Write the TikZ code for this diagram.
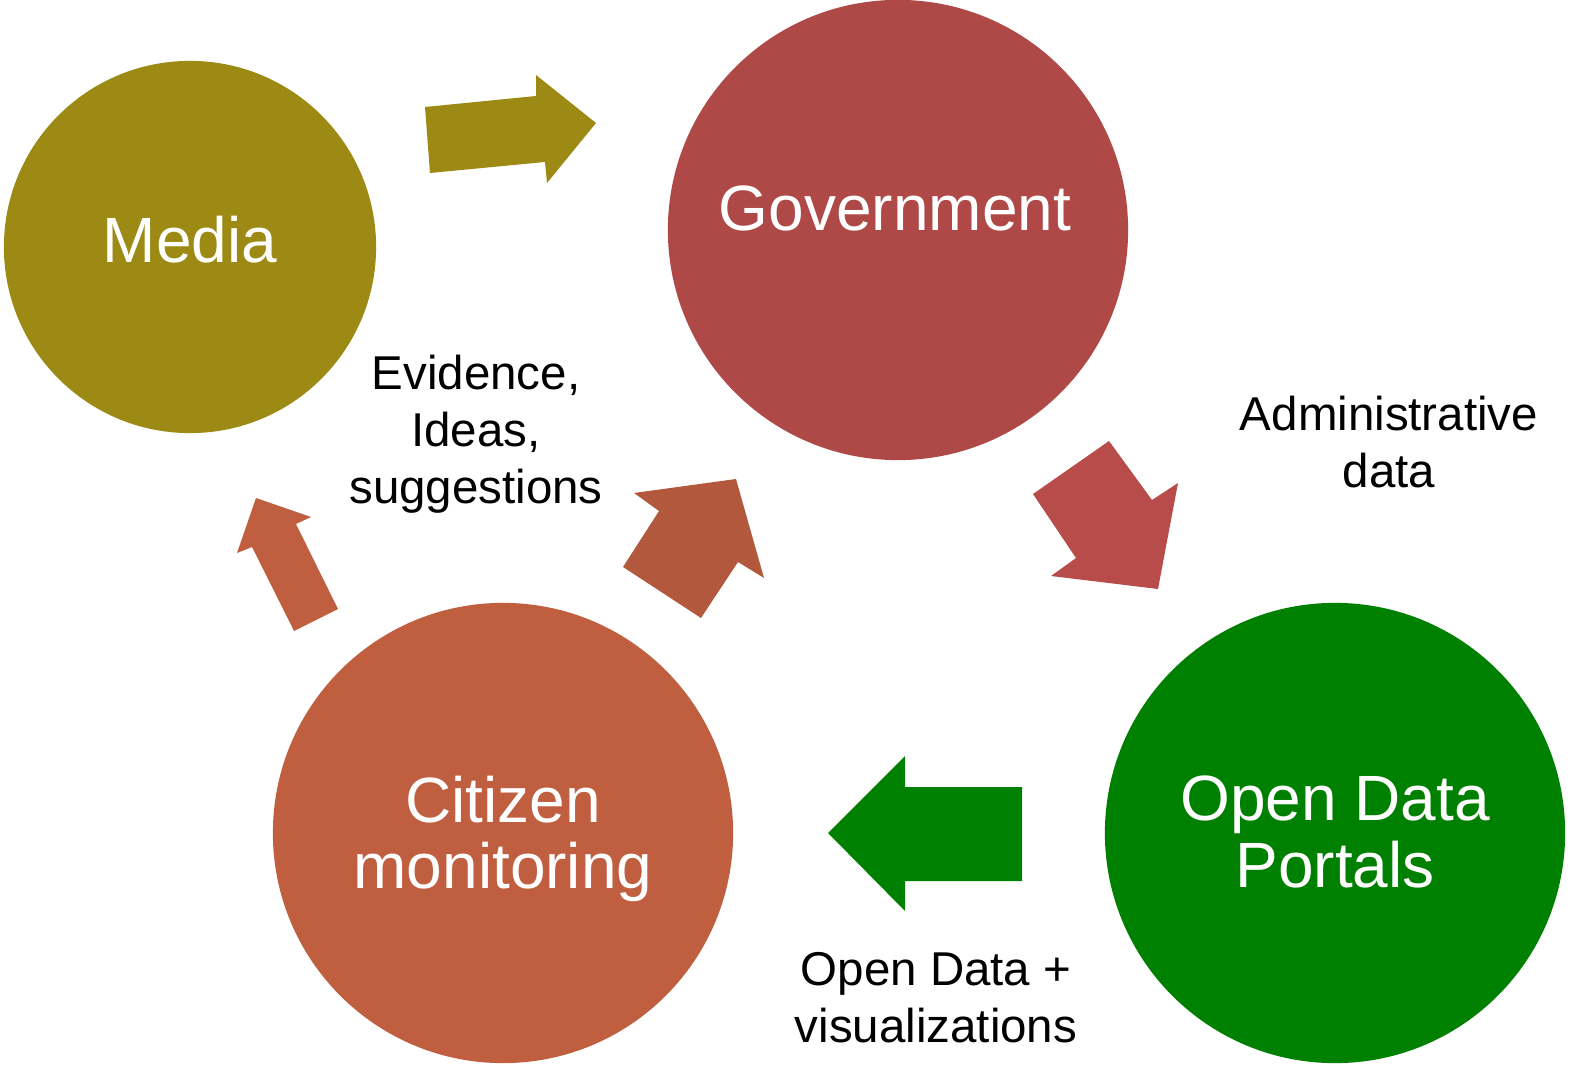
\documentclass[tikz,border=0pt]{standalone}
\usepackage{fontspec}
\setmainfont{Liberation Sans}
\usepackage{xcolor}
\usetikzlibrary{positioning,calc}

\definecolor{mediac}{HTML}{9C8A14}
\definecolor{govc}{HTML}{AE4947}
\definecolor{citc}{HTML}{C05F40}
\definecolor{odpc}{HTML}{008000}
\definecolor{govarrow}{HTML}{B84C4A}
\definecolor{citarrow}{HTML}{B2583D}

\tikzset{
    actor/.style={circle, inner sep=0pt, text=white, align=center,
        font=\fontsize{18.2}{19}\selectfont},
    flowlabel/.style={align=center, text=black,
        font=\fontsize{13.5}{16.2}\selectfont}
}

\begin{document}
\begin{tikzpicture}[x=0.01cm, y=-0.01cm]
    \useasboundingbox (0,0) rectangle (1576,1067);

    % The four actors
    \node[actor, fill=mediac, minimum size=3.72cm] (media) at (190,247) {};
    \node[actor, fill=govc, minimum size=4.6cm] (gov) at (898,230) {};
    \node[actor, fill=citc, minimum size=4.6cm] (citizen) at (503,833) {};
    \node[actor, fill=odpc, minimum size=4.6cm] (portals) at (1335,833) {};

    % Their names
    \node[actor] (medialbl) at (190,240) {Media};
    \node[actor] (govlbl) at (895,208) {Government};
    \node[actor] (citlbl) at (503,839) {Citizen\\monitoring};
    \node[actor] (odplbl) at (1335,832) {Open Data\\Portals};

    % Block arrows between the actors
    \fill[mediac] (425,107) -- (536,96) -- (536,75) -- (596,123)
        -- (547,183) -- (545,162) -- (430,173) -- cycle;
    \fill[govarrow] (1033,494) -- (1109,441) -- (1152,500) -- (1178,483)
        -- (1158,589) -- (1051,576) -- (1076,558) -- cycle;
    \fill[odpc] (1022,787) -- (905,787) -- (905,756) -- (828,833)
        -- (905,911) -- (905,881) -- (1022,881) -- cycle;
    \fill[citarrow] (623,567) -- (659,511) -- (634,493) -- (736,479)
        -- (764,578) -- (738,562) -- (701,618) -- cycle;
    \fill[citc] (294,631) -- (252,547) -- (237,553) -- (256,498)
        -- (311,517) -- (296,524) -- (338,609) -- cycle;

    % What flows along the arrows
    \node[flowlabel] (ideas) at (476,434) {Evidence,\\Ideas,\\suggestions};
    \node[flowlabel] (admin) at (1389,442) {Administrative\\data};
    \node[flowlabel] (opendata) at (936,998) {Open Data +\\visualizations};
\end{tikzpicture}
\end{document}
